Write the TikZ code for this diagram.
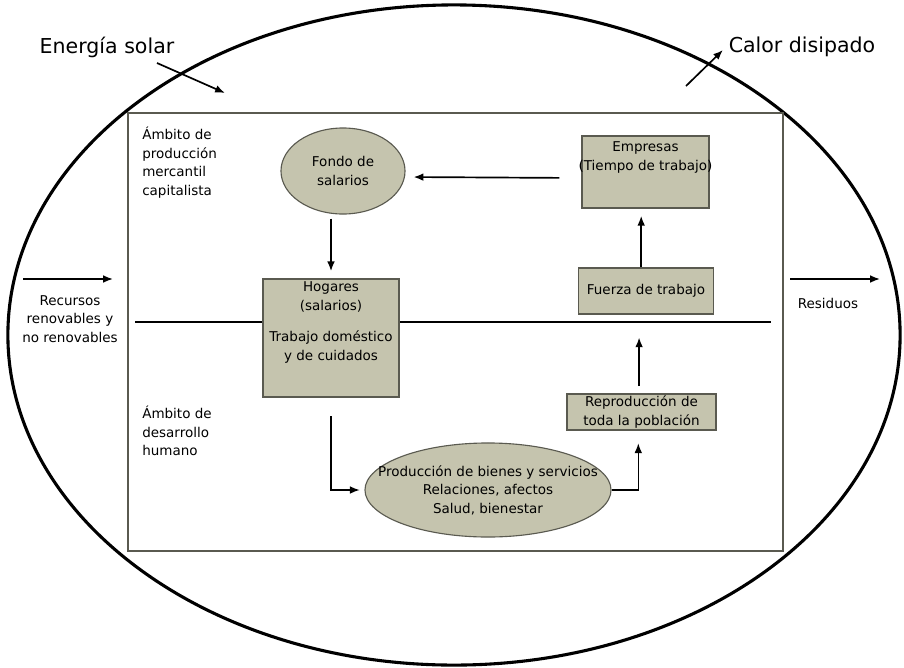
\documentclass[tikz,border=0pt]{standalone}
\usepackage{fontspec}
\setmainfont{DejaVu Sans}
\usetikzlibrary{arrows.meta,shapes.geometric}
\definecolor{caqui}{RGB}{197,196,174}
\definecolor{borde}{RGB}{90,90,80}

\tikzset{
	caja/.style={draw=borde, fill=caqui, line width=0.8pt, rectangle, inner sep=0pt},
	elipse/.style={draw=borde, fill=caqui, line width=0.8pt, ellipse, inner sep=0pt},
	texto/.style={font=\fontsize{9.6}{13.2}\selectfont, align=center, inner sep=0pt},
	grande/.style={font=\fontsize{14.6}{17}\selectfont, inner sep=0pt},
	flecha/.style={-{Latex[length=7pt,width=5.5pt]}, line width=1.2pt},
}

\begin{document}
\begin{tikzpicture}[x=0.025cm, y=-0.025cm]
	\useasboundingbox (0,0) rectangle (904,667);
	
	%sistema y ambitos
	\draw[line width=2.2pt] (454,335) ellipse [x radius=11.15cm, y radius=8.25cm];
	\draw[draw=borde, line width=0.9pt] (128,113) rectangle (783,551);
	\draw[line width=1.7pt] (135,322) -- (771,322);
	
	%textos exteriores
	\node[grande] (sol) at (107,47){Energía solar};
	\node[grande] (calor) at (802,47){Calor disipado};
	\node[texto] (recursos) at (70,319){Recursos\\renovables y\\no renovables};
	\node[texto] (residuos) at (828,303){Residuos};
	\node[texto, align=left, anchor=north west] (mercantil) at (142,127){Ámbito de\\producción\\mercantil\\capitalista};
	\node[texto, align=left, anchor=north west] (humano) at (142,406){Ámbito de\\desarrollo\\humano};
	
	%flujos exteriores
	\coordinate (solA) at (157,63);
	\coordinate (solB) at (225,93);
	\coordinate (calorA) at (686,86);
	\coordinate (calorB) at (723,50);
	\coordinate (recA) at (23,279);
	\coordinate (recB) at (113,279);
	\coordinate (resA) at (790,279);
	\coordinate (resB) at (880,279);
	
	%ambito mercantil
	\node[elipse, minimum width=3.1cm, minimum height=2.15cm] (fondo) at (343,171){};
	\node[texto] at (fondo){Fondo de\\salarios};
	\node[caja, minimum width=3.175cm, minimum height=1.8cm] (emp) at (645.5,172){};
	\node[texto] at (645.5,157.5){Empresas\\(Tiempo de trabajo)};
	\node[caja, minimum width=3.375cm, minimum height=1.15cm] (fuerza) at (646,291){};
	\node[texto] at (fuerza){Fuerza de trabajo};
	
	%hogares
	\node[caja, minimum width=3.4cm, minimum height=2.95cm] (hog) at (331,338){};
	\node[texto] at (331,297){Hogares\\(salarios)};
	\node[texto] at (331,347){Trabajo doméstico\\y de cuidados};
	
	%ambito de desarrollo humano
	\node[caja, minimum width=3.725cm, minimum height=0.9cm] (rep) at (641.5,412){};
	\node[texto] at (rep){Reproducción de\\toda la población};
	\node[elipse, minimum width=6.15cm, minimum height=2.35cm] (prod) at (488,490){};
	\node[texto] at (prod){Producción de bienes y servicios\\Relaciones, afectos\\Salud, bienestar};
	
	%flechas
	\draw[flecha] (solA) -- (solB);
	\draw[flecha] (calorA) -- (calorB);
	\draw[flecha] (recA) -- (recB);
	\draw[flecha] (resA) -- (resB);
	\draw[flecha, shorten <=0.55cm, shorten >=0.2cm] ([yshift=-0.15cm]emp.west) -- ([yshift=-0.15cm]fondo.east);
	\draw[flecha, shorten <=0.1cm, shorten >=0.18cm] (hog.north |- fondo.south) -- (hog.north);
	\draw[flecha, shorten >=0.18cm] ([xshift=-0.12cm]fuerza.north) -- ([xshift=-0.12cm]fuerza.north |- emp.south);
	\draw[flecha, shorten <=0.18cm, shorten >=0.57cm] ([xshift=-0.06cm]rep.north) -- ([xshift=-0.06cm]rep.north |- fuerza.south);
	\draw[line width=0.8pt, -{Latex[length=7pt,width=5.5pt]}, shorten >=0.32cm] (prod.east) -| ([xshift=-0.08cm]rep.south);
	\draw[line width=0.8pt, -{Latex[length=7pt,width=5.5pt]}, shorten <=0.47cm, shorten >=0.12cm] (hog.south) |- (prod.west);

\end{tikzpicture}
\end{document}
